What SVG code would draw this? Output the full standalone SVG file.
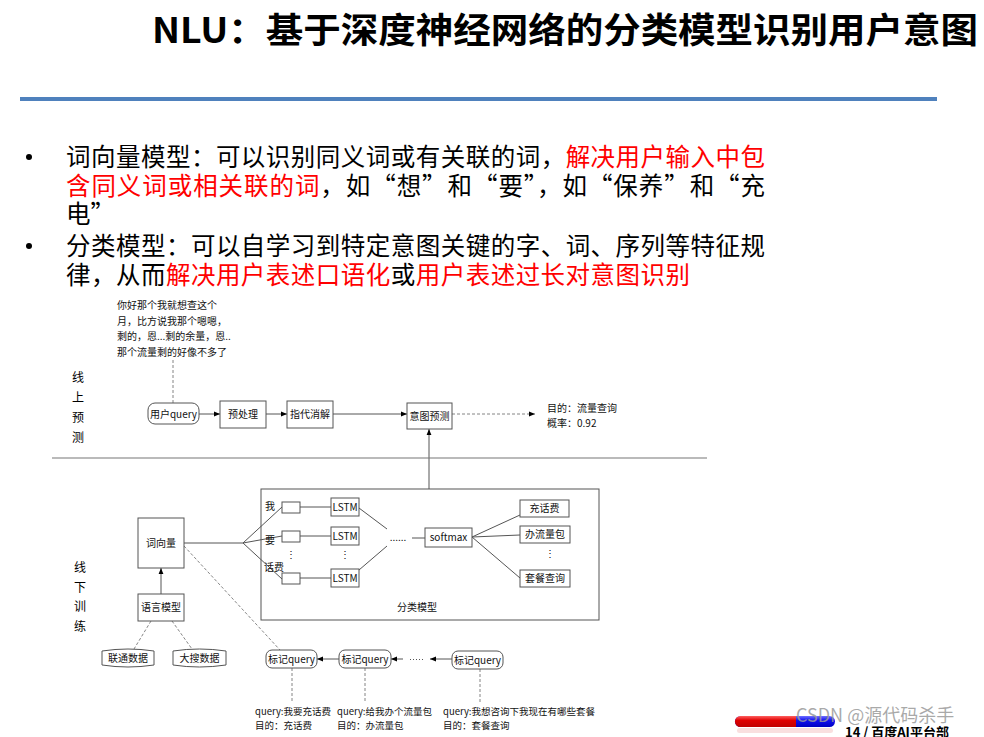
<svg xmlns="http://www.w3.org/2000/svg" width="984" height="737" viewBox="0 0 984 737">
<defs>
<style>
.t{font-family:"Noto Sans CJK SC","Liberation Sans",sans-serif;fill:#000}
.s{font-family:"Noto Sans CJK SC","Liberation Sans",sans-serif;font-size:10px;fill:#111}
.e{font-size:9.5px}
.b{font-size:24.5px}
.r{fill:#ff0000}
.box{fill:#fff;stroke:#555;stroke-width:1}
.ln{fill:none;stroke:#555;stroke-width:1}
.dl{fill:none;stroke:#777;stroke-width:0.9;stroke-dasharray:3,2}
</style>
<marker id="ah" viewBox="0 0 10 10" refX="10" refY="5" markerWidth="6" markerHeight="6" orient="auto" markerUnits="userSpaceOnUse">
<path d="M0,1 L10,5 L0,9 z" fill="#000"/>
</marker>
<linearGradient id="red" x1="0" y1="0" x2="0" y2="1">
<stop offset="0" stop-color="#ff6060"/><stop offset="0.4" stop-color="#e00000"/><stop offset="1" stop-color="#c00000"/>
</linearGradient>
<linearGradient id="blue" x1="0" y1="0" x2="0" y2="1">
<stop offset="0" stop-color="#7070ff"/><stop offset="0.4" stop-color="#1010f0"/><stop offset="1" stop-color="#0000c0"/>
</linearGradient>
</defs>
<rect width="984" height="737" fill="#fff"/>

<g id="title">
<text class="t" x="152" y="43" font-size="35" font-weight="700" textLength="826" lengthAdjust="spacingAndGlyphs">NLU：基于深度神经网络的分类模型识别用户意图</text>
<rect x="20" y="97" width="917" height="4" fill="#4f81bd"/>
</g>

<g id="bullets">
<circle cx="29" cy="157" r="3" fill="#000"/>
<circle cx="29" cy="246" r="3" fill="#000"/>
<text class="t b" x="66" y="166" textLength="699">词向量模型：可以识别同义词或有关联的词，<tspan class="r">解决用户输入中包</tspan></text>
<text class="t b" x="66" y="195" textLength="699"><tspan class="r">含同义词或相关联的词</tspan>，如“想”和“要”，如“保养”和“充</text>
<text class="t b" x="66" y="223">电”</text>
<text class="t b" x="66" y="255" textLength="699">分类模型：可以自学习到特定意图关键的字、词、序列等特征规</text>
<text class="t b" x="66" y="284" textLength="624">律，从而<tspan class="r">解决用户表述口语化</tspan>或<tspan class="r">用户表述过长对意图识别</tspan></text>
</g>

<g id="query-text">
<text class="s" x="117" y="309">你好那个我就想查这个</text>
<text class="s" x="117" y="325">月，比方说我那个嗯嗯，</text>
<text class="s" x="117" y="340">剩的，恩...剩的余量，恩..</text>
<text class="s" x="117" y="356">那个流量剩的好像不多了</text>
</g>

<g id="labels">
<text class="t" x="78" y="382" font-size="12" text-anchor="middle">线</text>
<text class="t" x="78" y="402" font-size="12" text-anchor="middle">上</text>
<text class="t" x="78" y="422" font-size="12" text-anchor="middle">预</text>
<text class="t" x="78" y="442" font-size="12" text-anchor="middle">测</text>
<text class="t" x="80" y="572" font-size="12" text-anchor="middle">线</text>
<text class="t" x="80" y="592" font-size="12" text-anchor="middle">下</text>
<text class="t" x="80" y="611" font-size="12" text-anchor="middle">训</text>
<text class="t" x="80" y="631" font-size="12" text-anchor="middle">练</text>
</g>

<g id="connectors">
<line class="dl" x1="173" y1="360" x2="173" y2="403"/>
<line class="ln" x1="199" y1="414" x2="220" y2="414" marker-end="url(#ah)"/>
<line class="ln" x1="266" y1="414" x2="287" y2="414" marker-end="url(#ah)"/>
<line class="ln" x1="333" y1="414" x2="407" y2="414" marker-end="url(#ah)"/>
<line class="dl" x1="452" y1="414" x2="535" y2="414" marker-end="url(#ah)"/>
<line class="ln" x1="429" y1="489" x2="429" y2="429" marker-end="url(#ah)"/>
<line x1="52" y1="458" x2="707" y2="458" stroke="#777" stroke-width="1.2"/>
<line class="ln" x1="184" y1="543" x2="243" y2="543"/>
<line class="ln" x1="243" y1="543" x2="282" y2="507"/>
<line class="ln" x1="243" y1="543" x2="282" y2="536"/>
<line class="ln" x1="243" y1="543" x2="282" y2="579"/>
<line class="ln" x1="300" y1="507" x2="331" y2="507"/>
<line class="ln" x1="300" y1="536" x2="331" y2="536"/>
<line class="ln" x1="300" y1="578" x2="331" y2="578"/>
<line class="ln" x1="359" y1="508" x2="387" y2="529"/>
<line class="ln" x1="359" y1="570" x2="387" y2="546"/>
<line class="ln" x1="412" y1="538" x2="425" y2="538"/>
<line class="ln" x1="472" y1="537" x2="520" y2="515"/>
<line class="ln" x1="472" y1="537" x2="520" y2="535"/>
<line class="ln" x1="472" y1="537" x2="520" y2="578"/>
<line class="ln" x1="161" y1="594" x2="161" y2="568" marker-end="url(#ah)"/>
<line class="dl" x1="151" y1="621" x2="134" y2="649"/>
<line class="dl" x1="172" y1="621" x2="192" y2="649"/>
<line class="dl" x1="184" y1="546" x2="280" y2="650"/>
<line class="ln" x1="339" y1="659" x2="317" y2="659" marker-end="url(#ah)"/>
<line class="ln" x1="403" y1="659" x2="391" y2="659" marker-end="url(#ah)"/>
<line x1="410" y1="659.5" x2="424" y2="659.5" stroke="#555" stroke-width="1" stroke-dasharray="1,2"/>
<line class="ln" x1="452" y1="659" x2="430" y2="659" marker-end="url(#ah)" stroke-width="1.5"/>
<line class="dl" x1="292" y1="668" x2="292" y2="702"/>
<line class="dl" x1="365" y1="668" x2="365" y2="703"/>
<line class="dl" x1="480" y1="669" x2="480" y2="703"/>
</g>

<g id="n-userquery"><rect class="box" x="148" y="403" width="51" height="21" rx="7"/><text class="s" x="173.5" y="417.5" text-anchor="middle">用户query</text></g>
<g id="n-preprocess"><rect class="box" x="220" y="401" width="46" height="27"/><text class="s" x="243" y="418" text-anchor="middle">预处理</text></g>
<g id="n-coref"><rect class="box" x="287" y="401" width="46" height="27"/><text class="s" x="310" y="418" text-anchor="middle">指代消解</text></g>
<g id="n-intent"><rect class="box" x="407" y="403" width="45" height="26"/><text class="s" x="429.5" y="420" text-anchor="middle">意图预测</text></g>
<g id="n-result">
<text class="s" x="547" y="412">目的：流量查询</text>
<text class="s" x="547" y="427">概率：0.92</text>
</g>

<g id="n-classifier">
<rect x="261" y="489" width="338" height="131" fill="none" stroke="#555" stroke-width="1"/>
<text class="s" x="417" y="611" text-anchor="middle">分类模型</text>
<text class="s" x="270" y="510" text-anchor="middle">我</text>
<text class="s" x="270" y="544" text-anchor="middle">要</text>
<text class="s" x="274" y="571" text-anchor="middle">话费</text>
<text class="s" x="291" y="558" text-anchor="middle">⋮</text>
<text class="s" x="345" y="558" text-anchor="middle">⋮</text>
<text class="s" x="550" y="557" text-anchor="middle">⋮</text>
<text class="s" x="398" y="541" text-anchor="middle">......</text>
</g>
<g id="n-emb1"><rect class="box" x="282" y="502" width="18" height="11"/></g>
<g id="n-emb2"><rect class="box" x="282" y="531" width="18" height="11"/></g>
<g id="n-emb3"><rect class="box" x="282" y="573" width="18" height="11"/></g>
<g id="n-lstm1"><rect class="box" x="331" y="498" width="28" height="18"/><text class="s" x="345" y="511" text-anchor="middle" font-size="9">LSTM</text></g>
<g id="n-lstm2"><rect class="box" x="331" y="527" width="28" height="18"/><text class="s" x="345" y="540" text-anchor="middle" font-size="9">LSTM</text></g>
<g id="n-lstm3"><rect class="box" x="331" y="569" width="28" height="18"/><text class="s" x="345" y="582" text-anchor="middle" font-size="9">LSTM</text></g>
<g id="n-softmax"><rect class="box" x="425" y="528" width="47" height="19"/><text class="s" x="448.5" y="541" text-anchor="middle" font-size="8.5">softmax</text></g>
<g id="n-out1"><rect class="box" x="520" y="500" width="49" height="17"/><text class="s" x="544.5" y="512" text-anchor="middle">充话费</text></g>
<g id="n-out2"><rect class="box" x="520" y="526" width="50" height="17"/><text class="s" x="545" y="538" text-anchor="middle">办流量包</text></g>
<g id="n-out3"><rect class="box" x="520" y="570" width="50" height="17"/><text class="s" x="545" y="582" text-anchor="middle">套餐查询</text></g>

<g id="n-wordvec"><rect class="box" x="138" y="518" width="46" height="50"/><text class="s" x="161" y="547" text-anchor="middle">词向量</text></g>
<g id="n-lm"><rect class="box" x="138" y="594" width="46" height="27"/><text class="s" x="161" y="611" text-anchor="middle">语言模型</text></g>
<g id="n-data1">
<path class="box" d="M102,651 Q128,647 154,651 V665 Q128,669 102,665 Z"/>
<text class="s" x="128" y="662" text-anchor="middle">联通数据</text>
</g>
<g id="n-data2">
<path class="box" d="M173,651 Q199.5,647 226,651 V665 Q199.5,669 173,665 Z"/>
<text class="s" x="199.5" y="662" text-anchor="middle">大搜数据</text>
</g>
<g id="n-tag1"><rect class="box" x="266" y="650" width="51" height="18" rx="6"/><text class="s" x="291.5" y="662.5" text-anchor="middle">标记query</text></g>
<g id="n-tag2"><rect class="box" x="339" y="650" width="52" height="18" rx="6"/><text class="s" x="365" y="662.5" text-anchor="middle">标记query</text></g>
<g id="n-tag3"><rect class="box" x="452" y="651" width="51" height="18" rx="6"/><text class="s" x="477.5" y="663.5" text-anchor="middle">标记query</text></g>
<g id="n-ex1"><text class="s e" x="255" y="715">query:我要充话费</text><text class="s e" x="255" y="729">目的：充话费</text></g>
<g id="n-ex2"><text class="s e" x="337" y="715">query:给我办个流量包</text><text class="s e" x="337" y="729">目的：办流量包</text></g>
<g id="n-ex3"><text class="s e" x="443" y="715">query:我想咨询下我现在有哪些套餐</text><text class="s e" x="443" y="729">目的：套餐查询</text></g>

<g id="footer">
<rect x="735" y="716" width="100" height="11" rx="5.5" fill="url(#blue)"/>
<path d="M740.5,716 H796 V727 H740.5 A5.5,5.5 0 0 1 740.5,716 Z" fill="url(#red)"/>
<rect x="737" y="728" width="96" height="5" rx="2.5" fill="#f3c0c0" opacity="0.5"/>
<text class="t" x="845" y="737" font-size="13" font-weight="700">14 / 百度AI平台部</text>
<text x="796" y="722" font-family="Noto Sans CJK SC,Liberation Sans,sans-serif" font-size="18" fill="#9a9a9a" fill-opacity="0.85">CSDN @源代码杀手</text>
</g>
</svg>
